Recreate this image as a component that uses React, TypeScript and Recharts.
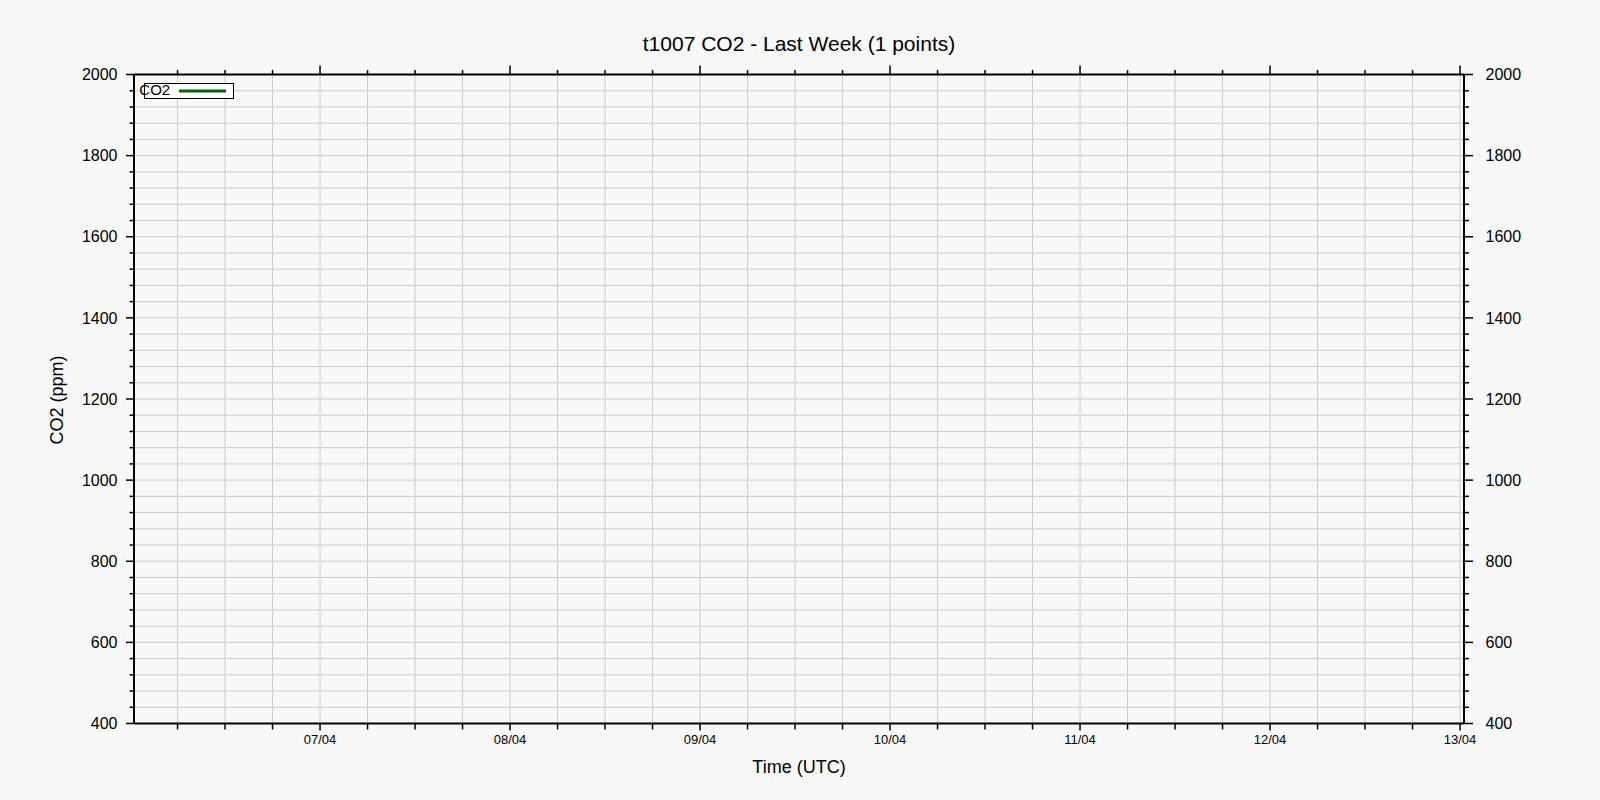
// ─── CO2 WEEK CHART ─── single sensor, last 7 days ──────────────────────────
import React from 'react';
import { LineChart, Line, XAxis, YAxis, CartesianGrid } from 'recharts';

const HOUR = 3600 * 1000;
const FONT = "'Liberation Sans', Arial, sans-serif";
const BG = '#f8f8f8';
const GRID = '#cccccc';
const SERIES_COLOR = '#006400';

// time window shown: 06/04 00:30 → 13/04 00:30 (UTC)
const windowStart = Date.UTC(2025, 3, 6, 0, 30);
const windowEnd = Date.UTC(2025, 3, 13, 0, 30);

const dayLabels = ['07/04', '08/04', '09/04', '10/04', '11/04', '12/04', '13/04'];
const dayTicks = dayLabels.map((_, i) => Date.UTC(2025, 3, 7 + i));
// minor ticks / grid every 6 hours
const timeTicks = Array.from({ length: 28 }, (_, i) => Date.UTC(2025, 3, 6) + (i + 1) * 6 * HOUR);

const yMajorTicks = [400, 600, 800, 1000, 1200, 1400, 1600, 1800, 2000];
const yTicks = Array.from({ length: 41 }, (_, i) => 400 + i * 40);

// the single reading of the week (a one-point line draws no segment)
const co2Times = [Date.UTC(2025, 3, 13, 0, 15)];
const co2Values = [430];

const data = co2Times.map((t, i) => ({ time: t, co2: co2Values[i] }));

const BottomTick = (props: any) => {
  const { x, y, payload } = props;
  const i = dayTicks.indexOf(payload.value);
  const major = i >= 0;
  return (
    <g>
      <line x1={x} x2={x} y1={y} y2={y + (major ? 7 : 6)} stroke="#000" strokeWidth={1.5} />
      {major && (
        <text x={x} y={y + 20.5} textAnchor="middle" fontSize={13} fontFamily={FONT} fill="#000">
          {dayLabels[i]}
        </text>
      )}
    </g>
  );
};

const TopTick = (props: any) => {
  const { x, y, payload } = props;
  const major = dayTicks.includes(payload.value);
  return <line x1={x} x2={x} y1={y} y2={y - (major ? 9 : 4.5)} stroke="#000" strokeWidth={1.5} />;
};

const LeftTick = (props: any) => {
  const { x, y, payload } = props;
  const major = yMajorTicks.includes(payload.value);
  return (
    <g>
      <line x1={x} x2={x - (major ? 8 : 4.5)} y1={y} y2={y} stroke="#000" strokeWidth={1.5} />
      {major && (
        <text x={x - 16.5} y={y + 5.7} textAnchor="end" fontSize={16} fontFamily={FONT} fill="#000">
          {payload.value}
        </text>
      )}
    </g>
  );
};

const RightTick = (props: any) => {
  const { x, y, payload } = props;
  const major = yMajorTicks.includes(payload.value);
  return (
    <g>
      <line x1={x} x2={x + (major ? 9 : 5)} y1={y} y2={y} stroke="#000" strokeWidth={1.5} />
      {major && (
        <text x={x + 21.5} y={y + 5.7} textAnchor="start" fontSize={16} fontFamily={FONT} fill="#000">
          {payload.value}
        </text>
      )}
    </g>
  );
};

const axisLine = { stroke: '#000', strokeWidth: 2 };

const App: React.FC = () => {
  return (
    <div
      style={{
        position: 'absolute',
        left: 0,
        top: 0,
        width: 1600,
        height: 800,
        background: BG,
        fontFamily: FONT,
      }}
    >
      <LineChart
        width={1600}
        height={800}
        data={data}
        margin={{ top: 64.5, right: 76, bottom: 36.5, left: 74 }}
      >
        <CartesianGrid stroke={GRID} strokeWidth={1} />
        <XAxis
          dataKey="time"
          type="number"
          domain={[windowStart, windowEnd]}
          allowDataOverflow
          ticks={timeTicks}
          interval={0}
          height={40}
          tickSize={0}
          tickMargin={0}
          tickLine={false}
          axisLine={axisLine}
          tick={<BottomTick />}
        />
        <XAxis
          xAxisId="top"
          dataKey="time"
          orientation="top"
          type="number"
          domain={[windowStart, windowEnd]}
          allowDataOverflow
          ticks={timeTicks}
          interval={0}
          height={10}
          tickSize={0}
          tickMargin={0}
          tickLine={false}
          axisLine={axisLine}
          tick={<TopTick />}
        />
        <YAxis
          type="number"
          domain={[400, 2000]}
          allowDataOverflow
          ticks={yTicks}
          interval={0}
          width={60}
          tickSize={0}
          tickMargin={0}
          tickLine={false}
          axisLine={axisLine}
          tick={<LeftTick />}
        />
        <YAxis
          yAxisId="right"
          orientation="right"
          type="number"
          domain={[400, 2000]}
          allowDataOverflow
          ticks={yTicks}
          interval={0}
          width={60}
          tickSize={0}
          tickMargin={0}
          tickLine={false}
          axisLine={axisLine}
          tick={<RightTick />}
        />
        <Line
          dataKey="co2"
          name="CO2"
          stroke={SERIES_COLOR}
          strokeWidth={3}
          dot={() => null}
          isAnimationActive={false}
        />
      </LineChart>
      <svg
        width={1600}
        height={800}
        style={{ position: 'absolute', left: 0, top: 0, pointerEvents: 'none' }}
      >
        <text x={799} y={51} textAnchor="middle" fontSize={21} fontFamily={FONT} fill="#000">
          t1007 CO2 - Last Week (1 points)
        </text>
        <text x={799} y={772.5} textAnchor="middle" fontSize={18} fontFamily={FONT} fill="#000">
          Time (UTC)
        </text>
        <text
          x={62.5}
          y={400}
          transform="rotate(-90 62.5 400)"
          textAnchor="middle"
          fontSize={18}
          fontFamily={FONT}
          fill="#000"
        >
          CO2 (ppm)
        </text>
        {/* legend */}
        <rect x={144.5} y={83.5} width={89} height={15} fill="#fff" stroke="#000" strokeWidth={1} />
        <text x={139.3} y={95} fontSize={15} fontFamily={FONT} fill="#000">
          CO2
        </text>
        <line x1={179} x2={226} y1={91} y2={91} stroke={SERIES_COLOR} strokeWidth={3} />
      </svg>
    </div>
  );
};

export default App;
